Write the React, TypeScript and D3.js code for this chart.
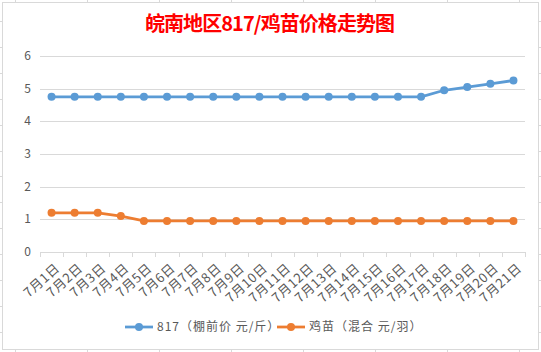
import React, { useRef, useEffect } from "react";
import * as d3 from "d3";

const days = ["7月1日", "7月2日", "7月3日", "7月4日", "7月5日", "7月6日", "7月7日", "7月8日", "7月9日", "7月10日", "7月11日",
  "7月12日", "7月13日", "7月14日", "7月15日", "7月16日", "7月17日", "7月18日", "7月19日", "7月20日", "7月21日"];
const price817 = [4.75, 4.75, 4.75, 4.75, 4.75, 4.75, 4.75, 4.75, 4.75, 4.75, 4.75,
  4.75, 4.75, 4.75, 4.75, 4.75, 4.75, 4.95, 5.05, 5.15, 5.25];
const chickPrice = [1.2, 1.2, 1.2, 1.1, 0.95, 0.95, 0.95, 0.95, 0.95, 0.95, 0.95,
  0.95, 0.95, 0.95, 0.95, 0.95, 0.95, 0.95, 0.95, 0.95, 0.95];
const seriesNames = ["817（棚前价 元/斤）", "鸡苗（混合 元/羽）"];
const seriesColors = ["#5b9bd5", "#ed7d31"];
const yTicks = [0, 1, 2, 3, 4, 5, 6];
const title = "皖南地区817/鸡苗价格走势图";

function App() {
  const svgRef = useRef(null);

  useEffect(() => {
    const font = "'Noto Sans CJK SC', 'Noto Sans', sans-serif";
    const grey = "#d9d9d9";
    const svg = d3.select(svgRef.current);
    svg.selectAll("*").remove();

    // spreadsheet grid poking out round the chart
    const cols = d3.range(8).map(i => 14.5 + 72 * i);
    const rows = d3.range(13).map(i => 21 + 25.9 * i);
    const deco = svg.append("g").attr("stroke", grey).attr("stroke-width", 1);
    cols.forEach(c => {
      deco.append("line").attr("x1", Math.round(c) + 0.5).attr("x2", Math.round(c) + 0.5).attr("y1", 0).attr("y2", 2);
      deco.append("line").attr("x1", Math.round(c) + 0.5).attr("x2", Math.round(c) + 0.5).attr("y1", 350).attr("y2", 352);
    });
    rows.forEach(r => {
      deco.append("line").attr("y1", Math.round(r) + 0.5).attr("y2", Math.round(r) + 0.5).attr("x1", 0).attr("x2", 2);
      deco.append("line").attr("y1", Math.round(r) + 0.5).attr("y2", Math.round(r) + 0.5).attr("x1", 539).attr("x2", 541);
    });
    svg.append("rect").attr("x", 2.5).attr("y", 2.5).attr("width", 536).attr("height", 347)
      .attr("fill", "#fff").attr("stroke", grey).attr("stroke-width", 1);

    // title
    svg.append("text").attr("x", 270).attr("y", 31).attr("text-anchor", "middle")
      .attr("font-family", font).attr("font-size", 20).attr("font-weight", "bold")
      .attr("fill", "#ff0000").attr("textLength", 250).attr("lengthAdjust", "spacing")
      .text(title);

    const x = d3.scaleBand().domain(days).range([40, 525]);
    const y = d3.scaleLinear().domain([0, 6]).range([252, 56]);
    const cx = d => x(d) + x.bandwidth() / 2;

    // gridlines
    svg.append("g").selectAll("line").data(yTicks.filter(t => t > 0)).join("line")
      .attr("x1", 40).attr("x2", 525)
      .attr("y1", d => Math.round(y(d)) + 0.5).attr("y2", d => Math.round(y(d)) + 0.5)
      .attr("stroke", grey);

    // y labels
    svg.append("g").selectAll("text").data(yTicks).join("text")
      .attr("x", 31).attr("y", d => y(d) + 4).attr("text-anchor", "end")
      .attr("font-family", font).attr("font-size", 12).attr("fill", "#595959")
      .text(d => d);

    // x axis
    const ax = svg.append("g").attr("stroke", grey);
    ax.append("line").attr("x1", 40).attr("x2", 525).attr("y1", 252.5).attr("y2", 252.5);
    d3.range(22).forEach(i => {
      const px = Math.round(40 + i * x.step()) + 0.5;
      ax.append("line").attr("x1", px).attr("x2", px).attr("y1", 252).attr("y2", 257);
    });
    svg.append("g").selectAll("text").data(days).join("text")
      .attr("transform", d => `translate(${cx(d) + 6},${266}) rotate(-42)`)
      .attr("text-anchor", "end").attr("dy", "0.35em").attr("letter-spacing", 0.6)
      .attr("font-family", font).attr("font-size", 13).attr("fill", "#595959")
      .text(d => d);

    // series
    const line = d3.line().x(d => cx(d[0])).y(d => y(d[1]));
    [price817, chickPrice].forEach((vals, k) => {
      const pts = vals.map((v, i) => [days[i], v]);
      const g = svg.append("g");
      g.append("path").attr("d", line(pts)).attr("fill", "none")
        .attr("stroke", seriesColors[k]).attr("stroke-width", 2.75).attr("stroke-linejoin", "round");
      g.selectAll("circle").data(pts).join("circle")
        .attr("cx", d => cx(d[0])).attr("cy", d => y(d[1])).attr("r", 4)
        .attr("fill", seriesColors[k]);
    });

    // legend
    const legendX = [125, 277];
    seriesNames.forEach((name, k) => {
      const lg = svg.append("g").attr("transform", `translate(${legendX[k]},327)`);
      lg.append("line").attr("x1", 0).attr("x2", 28).attr("stroke", seriesColors[k]).attr("stroke-width", 2.75);
      lg.append("circle").attr("cx", 14).attr("r", 4).attr("fill", seriesColors[k]);
      lg.append("text").attr("x", 32).attr("dy", "0.35em").attr("letter-spacing", 1)
        .attr("font-family", font).attr("font-size", 12).attr("fill", "#595959")
        .text(name);
    });
  }, []);

  return (
    <svg ref={svgRef} width={541} height={352}
      style={{ position: "absolute", left: 0, top: 0, background: "#fff" }} />
  );
}

export default App;
